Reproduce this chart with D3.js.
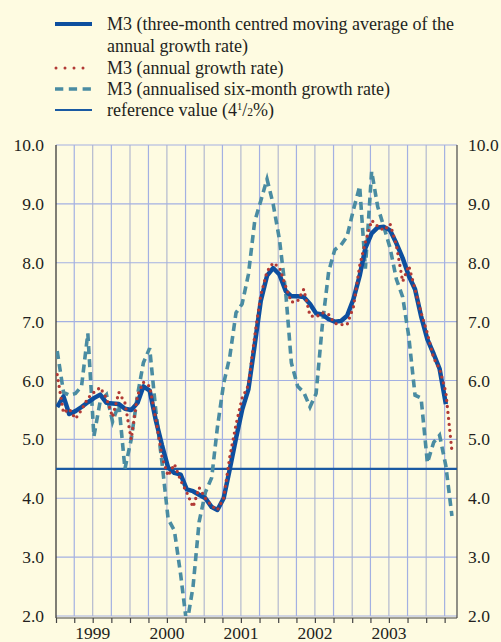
<!DOCTYPE html>
<html><head><meta charset="utf-8">
<script src="https://cdn.jsdelivr.net/npm/d3@7"></script>
<style>
html,body{margin:0;padding:0;background:#fefbe1;}
svg{display:block;font-family:"Liberation Serif","Times New Roman",serif;}
</style></head>
<body>
<svg id="c" width="501" height="642"></svg>
<script>
// Months from Jan 1999 (index 0) to May 2004 (index 64)
const startYear = 1999;
const movingAverage = [5.55,5.73,5.43,5.48,5.55,5.63,5.70,5.76,5.62,5.61,5.60,5.52,
  5.50,5.62,5.90,5.83,5.33,4.90,4.52,4.43,4.40,4.15,4.12,4.06,
  4.00,3.85,3.80,4.00,4.49,5.02,5.50,5.85,6.60,7.35,7.78,7.91,
  7.80,7.52,7.43,7.43,7.42,7.30,7.14,7.12,7.04,7.00,7.01,7.10,
  7.38,7.78,8.25,8.50,8.60,8.61,8.55,8.33,8.08,7.78,7.55,7.09,
  6.70,6.45,6.20,5.60];
const annualGrowth = [6.10,5.45,5.52,5.35,5.50,5.70,5.80,5.88,5.70,5.38,5.80,5.62,
  5.00,5.75,5.97,5.90,5.35,4.70,4.38,4.58,4.30,4.10,3.85,4.18,
  4.00,3.87,3.80,4.00,4.70,5.25,5.70,5.92,6.75,7.45,7.85,8.00,
  7.92,7.60,7.33,7.35,7.55,7.10,7.08,7.15,7.12,6.97,6.95,6.95,
  7.25,7.95,8.35,8.72,8.62,8.55,8.66,8.30,7.68,7.95,7.55,7.15,
  6.80,6.38,6.20,5.80,4.80];
const sixMonth = [6.50,5.80,5.75,5.78,5.90,6.80,5.05,5.65,5.76,5.30,5.60,4.50,
  5.00,5.75,6.30,6.55,5.50,4.60,3.65,3.45,2.70,1.85,2.50,3.60,
  4.10,4.35,5.20,5.95,6.40,7.15,7.30,7.80,8.70,9.05,9.42,9.00,
  8.40,7.50,6.30,5.90,5.80,5.55,5.78,6.95,7.85,8.22,8.30,8.45,
  8.90,9.30,7.90,9.55,8.95,8.60,8.25,7.72,7.42,6.75,5.75,5.70,
  4.60,4.95,5.07,4.55,3.70];
const referenceValue = 4.5;
const yTicks = [2,3,4,5,6,7,8,9,10];
const yearLabels = [1999,2000,2001,2002,2003];
const legendLabels = [
  ["M3 (three-month centred moving average of the","annual growth rate)"],
  ["M3 (annual growth rate)"],
  ["M3 (annualised six-month growth rate)"],
  ["reference value (4", "1", "/2%)"]
];

const svg = d3.select("#c");
const L = 56, R = 457, T = 145, B = 616;
const x = d3.scaleTime().domain([new Date(1999,0,1), new Date(2004,5,1)]).range([L,R]);
const y = d3.scaleLinear().domain([2,10]).range([B,T]);
const dateOf = i => new Date(startYear, i, 7);
const FONT = "Liberation Serif, Times New Roman, serif";

svg.append("rect").attr("width",501).attr("height",642).attr("fill","#fefbe1");

// gridlines
const quarters = d3.timeMonth.every(3).range(new Date(1999,3,1), new Date(2004,5,1));
svg.append("g").selectAll("line").data(quarters).join("line")
  .attr("x1",d=>x(d)).attr("x2",d=>x(d)).attr("y1",T).attr("y2",B)
  .attr("stroke",d=> d.getMonth()%6===0 ? "#b3b9cf" : "#a3b0e2").attr("stroke-width",1.2);
svg.append("g").selectAll("line").data(yTicks).join("line")
  .attr("x1",L).attr("x2",R).attr("y1",d=>y(d)).attr("y2",d=>y(d))
  .attr("stroke","#a3b0e2").attr("stroke-width",1.2);

// axes frames
svg.append("line").attr("x1",L).attr("x2",L).attr("y1",T).attr("y2",B+2).attr("stroke","#3a3a3a").attr("stroke-width",1.3);
svg.append("line").attr("x1",R).attr("x2",R).attr("y1",T).attr("y2",B+2).attr("stroke","#555").attr("stroke-width",1.3);

// bottom axis
const xAxis = d3.axisBottom(x).tickValues(d3.timeMonth.every(3).range(new Date(1999,0,1), new Date(2004,6,1))).tickSize(5).tickFormat("");
const gx = svg.append("g").attr("transform",`translate(0,${B+2})`).call(xAxis);
gx.select(".domain").attr("stroke","#444").attr("stroke-width",1.2).attr("d",`M${L},0H${R}`);
gx.selectAll(".tick line").attr("stroke","#444").attr("stroke-width",1.2);
svg.append("g").selectAll("text").data(yearLabels).join("text")
  .attr("x",d=>x(new Date(d,6,1))).attr("y",639).attr("text-anchor","middle")
  .attr("font-family",FONT).attr("font-size",17.5).attr("fill","#231f20").text(d=>d);

// y labels
const fmt = d3.format(".1f");
const yl = d3.axisLeft(y).tickValues(yTicks).tickSize(0).tickPadding(12).tickFormat(fmt);
const gyl = svg.append("g").attr("transform",`translate(${L},0)`).call(yl);
const yr = d3.axisRight(y).tickValues(yTicks).tickSize(0).tickPadding(11).tickFormat(fmt);
const gyr = svg.append("g").attr("transform",`translate(${R},0)`).call(yr);
[gyl,gyr].forEach(g=>{
  g.select(".domain").remove();
  g.selectAll("text").attr("font-size",17.5).attr("fill","#231f20").attr("font-family",FONT);
});

// clip
svg.append("clipPath").attr("id","clip").append("rect").attr("x",L).attr("y",T).attr("width",R-L).attr("height",B-T);
const plot = svg.append("g").attr("clip-path","url(#clip)");

const line = d3.line().x((d,i)=>x(dateOf(i))).y(d=>y(d));

plot.append("line").attr("x1",L).attr("x2",R).attr("y1",y(referenceValue)).attr("y2",y(referenceValue))
  .attr("stroke","#1a5aa3").attr("stroke-width",2.2);
plot.append("path").datum(sixMonth).attr("d",line).attr("fill","none")
  .attr("stroke","#4a8ca2").attr("stroke-width",3.6).attr("stroke-dasharray","8 5");
plot.append("path").datum(movingAverage).attr("d",line).attr("fill","none")
  .attr("stroke","#0d4f9f").attr("stroke-width",4.5).attr("stroke-linejoin","round");
plot.append("path").datum(annualGrowth).attr("d",line).attr("fill","none")
  .attr("stroke","#b23a35").attr("stroke-width",3.3).attr("stroke-linecap","round").attr("stroke-dasharray","0 6");

// legend
const lg = svg.append("g").attr("font-family",FONT);
const lx1 = 55, lx2 = 92, tx = 107;
const rows = [24, 68, 89, 110];
lg.append("line").attr("x1",lx1).attr("x2",lx2).attr("y1",rows[0]).attr("y2",rows[0]).attr("stroke","#0d4f9f").attr("stroke-width",4);
lg.append("line").attr("x1",lx1+1).attr("x2",lx2).attr("y1",rows[1]).attr("y2",rows[1]).attr("stroke","#b23a35").attr("stroke-width",3).attr("stroke-linecap","round").attr("stroke-dasharray","0 9");
lg.append("line").attr("x1",lx1).attr("x2",lx2).attr("y1",rows[2]).attr("y2",rows[2]).attr("stroke","#4a8ca2").attr("stroke-width",3.6).attr("stroke-dasharray","8.3 5.5");
lg.append("line").attr("x1",lx1).attr("x2",lx2).attr("y1",rows[3]).attr("y2",rows[3]).attr("stroke","#1a5aa3").attr("stroke-width",2.2);
const FS = 18;
function txt(xx,yy,s){return lg.append("text").attr("x",xx).attr("y",yy).attr("font-size",FS).attr("fill","#231f20").text(s);}
txt(tx,rows[0]+6,legendLabels[0][0]);
txt(tx,46+6,legendLabels[0][1]);
txt(tx,rows[1]+6,legendLabels[1][0]);
txt(tx,rows[2]+6,legendLabels[2][0]);
const rt = lg.append("text").attr("x",tx).attr("y",rows[3]+6).attr("font-size",FS).attr("fill","#231f20");
rt.append("tspan").text(legendLabels[3][0]);
rt.append("tspan").attr("font-size",10.5).attr("dy",-6.5).text(legendLabels[3][1]);
rt.append("tspan").attr("font-size",FS).attr("dy",6.5).text(legendLabels[3][2].charAt(0));
rt.append("tspan").attr("font-size",11.5).text(legendLabels[3][2].charAt(1));
rt.append("tspan").attr("font-size",FS).text(legendLabels[3][2].slice(2));
</script>
</body></html>
